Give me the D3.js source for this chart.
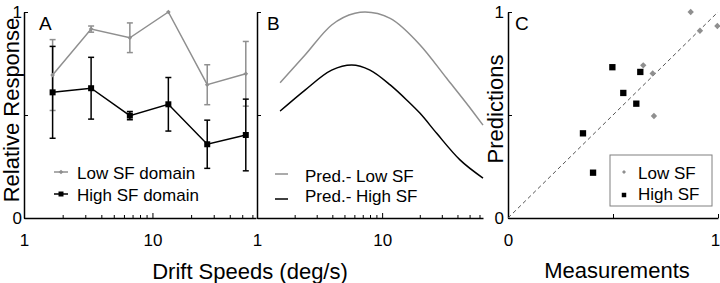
<!DOCTYPE html>
<html>
<head>
<meta charset="utf-8">
<script src="https://cdn.jsdelivr.net/npm/d3@7"></script>
<style>
body { margin: 0; background: #fff; }
text { font-family: "Liberation Sans", Arial, sans-serif; }
</style>
</head>
<body>
<script>
// Panel A: measured responses vs drift speed
const speeds = [1.67, 3.33, 6.67, 13.3, 26.7, 53.3];
const lowSF = [0.694, 0.917, 0.875, 1.0, 0.647, 0.70];
const lowSFerr = [0.172, 0.015, 0.072, 0, 0.097, 0.157];
const highSF = [0.61, 0.63, 0.497, 0.552, 0.358, 0.403];
const highSFerr = [0.223, 0.15, 0.02, 0.13, 0.117, 0.174];

// Panel B: model predictions (sampled along the curves)
const predLowSpeeds = [1.53, 2.42, 3.95, 6.07, 7.3, 11.6, 20.1, 32.8, 53.2, 64];
const predLow = [0.657, 0.791, 0.937, 0.994, 1.0, 0.969, 0.84, 0.678, 0.516, 0.451];
const predHighSpeeds = [1.53, 2.42, 3.95, 5.71, 8.0, 11.6, 15.7, 20.1, 27.3, 41.9, 64];
const predHigh = [0.519, 0.621, 0.718, 0.743, 0.718, 0.646, 0.573, 0.508, 0.411, 0.282, 0.194];

// Panel C: predictions vs measurements
const lowMeas = [0.87, 0.914, 0.997, 0.644, 0.689, 0.695];
const lowPred = [1.0, 0.909, 0.932, 0.741, 0.702, 0.495];
const highMeas = [0.497, 0.63, 0.549, 0.611, 0.357, 0.405];
const highPred = [0.732, 0.709, 0.607, 0.555, 0.411, 0.22];

// ticks
const logTickValues = [1, 2, 3, 4, 5, 6, 7, 8, 9, 10, 20, 30, 40, 50, 60];
const logMajor = [1, 10];
const yTickValues = [0, 0.5, 1];
const yTickLabels = ["0", "", "1"];
const cTickLabels = ["0", "", "1"];

const svgWidth = 720;
const svgHeight = 283;
const gray = "#8f8f8f";
const fontSize = 17;

const svg = d3.select("body")
    .append("svg")
    .attr("width", svgWidth)
    .attr("height", svgHeight);

const y = d3.scaleLinear().domain([0, 1]).range([218, 12]);
const xA = d3.scaleLog().domain([1, 64]).range([24, 256]);
const xB = d3.scaleLog().domain([1, 64]).range([257, 483]);
const xC = d3.scaleLinear().domain([0, 1]).range([508, 718]);

function styleAxis(g) {
    g.select(".domain").attr("stroke-width", 1.5);
    g.selectAll(".tick line").attr("stroke-width", 1);
    g.selectAll("text").style("font-size", fontSize + "px")
        .style("font-family", '"Liberation Sans", Arial, sans-serif');
}

function logAxis(x) {
    const g = svg.append("g")
        .attr("transform", `translate(0, ${y(0)})`)
        .call(d3.axisBottom(x)
            .tickValues(logTickValues)
            .tickFormat(d => logMajor.includes(d) ? String(d) : "")
            .tickSizeInner(-3)
            .tickSizeOuter(0)
            .tickPadding(16));
    g.selectAll(".tick line").filter(d => logMajor.includes(d)).attr("y2", -5);
    styleAxis(g);
}

function leftAxis(x0, labels) {
    const g = svg.append("g")
        .attr("transform", `translate(${x0}, 0)`)
        .call(d3.axisLeft(y)
            .tickValues(yTickValues)
            .tickFormat((d, i) => labels ? labels[i] : "")
            .tickSizeInner(-4)
            .tickSizeOuter(0)
            .tickPadding(2));
    styleAxis(g);
}

// ---------- Panel A ----------
leftAxis(xA.range()[0], yTickLabels);
logAxis(xA);

function errorBars(vals, errs, color) {
    const g = svg.append("g").attr("stroke", color).attr("stroke-width", 1.5);
    vals.forEach((v, i) => {
        if (!errs[i]) return;
        const cx = xA(speeds[i]);
        g.append("line").attr("x1", cx).attr("x2", cx).attr("y1", y(v - errs[i])).attr("y2", y(v + errs[i]));
        [v - errs[i], v + errs[i]].forEach(e => {
            g.append("line").attr("x1", cx - 3).attr("x2", cx + 3).attr("y1", y(e)).attr("y2", y(e));
        });
    });
}

errorBars(lowSF, lowSFerr, gray);
errorBars(highSF, highSFerr, "black");

const lineA = d3.line().x((d, i) => xA(speeds[i])).y(d => y(d));
svg.append("path").datum(lowSF).attr("d", lineA)
    .attr("fill", "none").attr("stroke", gray).attr("stroke-width", 1.5);
svg.append("path").datum(highSF).attr("d", lineA)
    .attr("fill", "none").attr("stroke", "black").attr("stroke-width", 1.5);

const diamondSmall = d3.symbol().type(d3.symbolDiamond2).size(14);
const squareA = d3.symbol().type(d3.symbolSquare).size(36);

svg.append("g").selectAll("path").data(lowSF).join("path")
    .attr("d", diamondSmall)
    .attr("transform", (d, i) => `translate(${xA(speeds[i])}, ${y(d)})`)
    .attr("fill", gray);
svg.append("g").selectAll("path").data(highSF).join("path")
    .attr("d", squareA)
    .attr("transform", (d, i) => `translate(${xA(speeds[i])}, ${y(d)})`)
    .attr("fill", "black");

// legend A
const legA = svg.append("g");
[{label: "Low SF domain", color: gray, sym: diamondSmall, yy: 172},
 {label: "High SF domain", color: "black", sym: d3.symbol().type(d3.symbolSquare).size(25), yy: 194}]
    .forEach(e => {
        legA.append("line").attr("x1", 54).attr("x2", 68).attr("y1", e.yy).attr("y2", e.yy)
            .attr("stroke", e.color).attr("stroke-width", 1.5);
        legA.append("path").attr("d", e.sym).attr("transform", `translate(61, ${e.yy})`).attr("fill", e.color);
        legA.append("text").text(e.label).attr("x", 77).attr("y", e.yy + 6.5)
            .style("font-size", fontSize + "px");
    });

// ---------- Panel B ----------
leftAxis(xB.range()[0], null);
logAxis(xB);

const lineLow = d3.line().x((d, i) => xB(predLowSpeeds[i])).y(d => y(d)).curve(d3.curveMonotoneX);
const lineHigh = d3.line().x((d, i) => xB(predHighSpeeds[i])).y(d => y(d)).curve(d3.curveMonotoneX);
svg.append("path").datum(predLow).attr("d", lineLow)
    .attr("fill", "none").attr("stroke", gray).attr("stroke-width", 1.5);
svg.append("path").datum(predHigh).attr("d", lineHigh)
    .attr("fill", "none").attr("stroke", "black").attr("stroke-width", 1.5);

const legB = svg.append("g");
[{label: "Pred.- Low SF", color: gray, ly: 174, ty: 181.5},
 {label: "Pred.- High SF", color: "black", ly: 199, ty: 202}]
    .forEach(e => {
        legB.append("line").attr("x1", 275).attr("x2", 288).attr("y1", e.ly).attr("y2", e.ly)
            .attr("stroke", e.color).attr("stroke-width", 1.5);
        legB.append("text").text(e.label).attr("x", 305).attr("y", e.ty)
            .style("font-size", fontSize + "px");
    });

// ---------- Panel C ----------
const gcy = svg.append("g")
    .attr("transform", `translate(${xC.range()[0]}, 0)`)
    .call(d3.axisLeft(y).tickValues(yTickValues).tickFormat((d, i) => cTickLabels[i])
        .tickSizeInner(-4).tickSizeOuter(0).tickPadding(4));
styleAxis(gcy);
const gcx = svg.append("g")
    .attr("transform", `translate(0, ${y(0)})`)
    .call(d3.axisBottom(xC).tickValues(yTickValues).tickFormat((d, i) => cTickLabels[i])
        .tickSizeInner(-4).tickSizeOuter(0).tickPadding(16));
styleAxis(gcx);
// keep the last label inside the picture
gcx.selectAll(".tick text").filter(d => d === 1).attr("dx", "-3");

svg.append("line")
    .attr("x1", xC(0)).attr("y1", y(0)).attr("x2", xC(1)).attr("y2", y(1))
    .attr("stroke", "#555").attr("stroke-width", 1).attr("stroke-dasharray", "4,3");

const diamondC = d3.symbol().type(d3.symbolDiamond2).size(26);
const squareC = d3.symbol().type(d3.symbolSquare).size(40);
svg.append("g").selectAll("path").data(lowMeas).join("path")
    .attr("d", diamondC)
    .attr("transform", (d, i) => `translate(${xC(d)}, ${y(lowPred[i])})`)
    .attr("fill", gray);
svg.append("g").selectAll("path").data(highMeas).join("path")
    .attr("d", squareC)
    .attr("transform", (d, i) => `translate(${xC(d)}, ${y(highPred[i])})`)
    .attr("fill", "black");

const legC = svg.append("g");
legC.append("rect").attr("x", 610).attr("y", 155).attr("width", 102).attr("height", 51)
    .attr("fill", "white").attr("stroke", "#808080").attr("stroke-width", 1);
legC.append("path").attr("d", d3.symbol().type(d3.symbolDiamond2).size(10))
    .attr("transform", "translate(624, 172)").attr("fill", gray);
legC.append("path").attr("d", d3.symbol().type(d3.symbolSquare).size(20))
    .attr("transform", "translate(624, 195)").attr("fill", "black");
legC.append("text").text("Low SF").attr("x", 638).attr("y", 178.5).style("font-size", fontSize + "px");
legC.append("text").text("High SF").attr("x", 638).attr("y", 199.5).style("font-size", fontSize + "px");

// panel letters
[["A", 39], ["B", 267], ["C", 515]].forEach(([t, x]) => {
    svg.append("text").text(t).attr("x", x).attr("y", 30).style("font-size", "19px");
});

// axis titles
svg.append("text").text("Relative Response")
    .attr("transform", "translate(18.5, 110) rotate(-90)")
    .attr("text-anchor", "middle").style("font-size", "22px");
svg.append("text").text("Drift Speeds (deg/s)")
    .attr("x", 250).attr("y", 279)
    .attr("text-anchor", "middle").style("font-size", "22px");
svg.append("text").text("Predictions")
    .attr("transform", "translate(503, 109) rotate(-90)")
    .attr("text-anchor", "middle").style("font-size", "22px");
svg.append("text").text("Measurements")
    .attr("x", 617).attr("y", 278)
    .attr("text-anchor", "middle").style("font-size", "22px");
</script>
</body>
</html>
